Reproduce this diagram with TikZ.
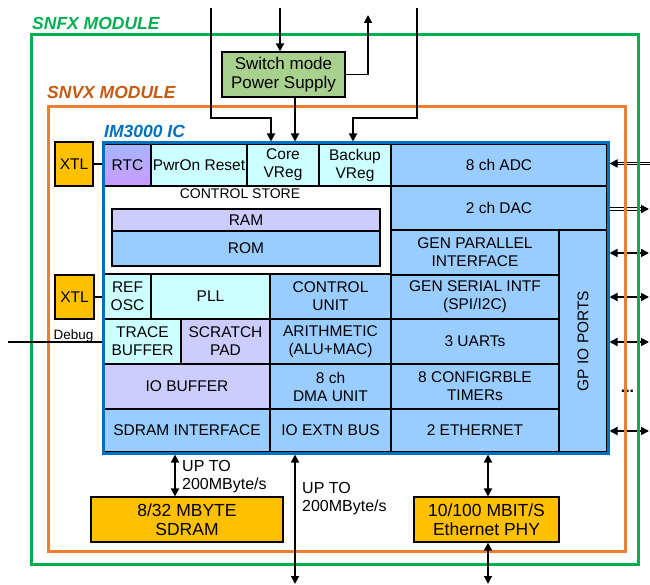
\documentclass[tikz,border=0pt]{standalone}
\usepackage{fontspec}
\setmainfont{Liberation Sans}
\usepackage{graphicx}
\usetikzlibrary{arrows.meta,fit}
\definecolor{cyanc}{HTML}{CCFFFF}
\definecolor{bluec}{HTML}{99CCFF}
\definecolor{lavc}{HTML}{CCCCFF}
\definecolor{xtlc}{HTML}{FFC000}
\definecolor{psuc}{HTML}{A9D18E}
\definecolor{icblue}{HTML}{0070C0}
\definecolor{frgreen}{HTML}{00B050}
\definecolor{frorange}{HTML}{ED7D31}
\definecolor{lblorange}{HTML}{C55A11}
\definecolor{rtctop}{HTML}{A4B6FF}
\definecolor{rtcbot}{HTML}{CC99FF}
\newcommand\icfont{\fontsize{15.5}{18}\selectfont}
\newcommand\bigfont{\fontsize{17.5}{18.5}\selectfont}
\newcommand\csfont{\fontsize{14}{16}\selectfont}
\newcommand\upfont{\fontsize{16}{18}\selectfont}
\newcommand\modfont{\fontsize{17.5}{20}\selectfont\bfseries\itshape}
% \rectnode{name}{x1}{y1}{x2}{y2}{style}{text}
\newcommand\rectnode[7]{\node[#6,minimum width={(#4-#2)*1pt},minimum height={(#5-#3)*1pt}] (#1) at ({(#2+#4)/2},{(#3+#5)/2}) {#7};}
\tikzset{
  cellst/.style={draw=black, line width=1.1pt, inner sep=0pt, align=center, font=\icfont},
  cy/.style={cellst, fill=cyanc}, bl/.style={cellst, fill=bluec}, lv/.style={cellst, fill=lavc},
  rtcst/.style={cellst, top color=rtctop, bottom color=rtcbot},
  extbox/.style={draw=black, line width=1.2pt, inner sep=0pt, align=center, font=\bigfont},
  xtlbox/.style={extbox, fill=xtlc},
  frame/.style={line width=3pt, inner sep=0pt},
  modlbl/.style={font=\modfont, inner sep=0pt, anchor=base west},
  conn/.style={draw=black, line width=1.7pt},
  dblconn/.style={draw=black, line width=0.9pt, double=white, double distance=1.6pt},
  >={Triangle[width=8pt,length=8pt]},
  txt/.style={inner sep=0pt, align=left},
}
\begin{document}
\begin{tikzpicture}[x=1pt,y=-1pt]
\useasboundingbox (0,0) rectangle (650,585);
% IC cells
\rectnode{rtc}{104}{144}{151}{186}{rtcst}{RTC}
\rectnode{por}{151}{144}{247}{186}{cy}{PwrOn Reset}
\rectnode{core}{247}{144}{319}{186}{cy}{Core\\VReg}
\rectnode{backup}{319}{144}{391}{186}{cy}{Backup\\VReg}
\rectnode{adc}{391}{144}{607}{186}{bl}{8 ch ADC}
\rectnode{dac}{391}{186}{607}{230}{bl}{2 ch DAC}
\rectnode{cstore}{104}{186}{391}{274}{cellst, fill=white}{}
\node[inner sep=0pt, font=\csfont, anchor=base] (cslbl) at (240,199) {CONTROL STORE};
\rectnode{ram}{112}{209}{380}{231}{lv}{RAM}
\rectnode{rom}{112}{231}{380}{266}{bl}{ROM}
\rectnode{gpp}{391}{230}{559}{275}{bl}{GEN PARALLEL\\INTERFACE}
\rectnode{gsi}{391}{275}{559}{319}{bl}{GEN SERIAL INTF\\(SPI/I2C)}
\rectnode{uart}{391}{319}{559}{364}{bl}{3 UARTs}
\rectnode{tmr}{391}{364}{559}{409}{bl}{8 CONFIGRBLE\\TIMERs}
\rectnode{eth}{391}{409}{559}{452}{bl}{2 ETHERNET}
\rectnode{gpio}{559}{230}{607}{452}{bl}{\rotatebox{90}{GP IO PORTS}}
\rectnode{refosc}{104}{274}{151}{319}{cy}{REF\\OSC}
\rectnode{pll}{151}{274}{270}{319}{cy}{PLL}
\rectnode{cu}{270}{274}{391}{319}{bl}{CONTROL\\UNIT}
\rectnode{trace}{104}{319}{181}{364}{cy}{TRACE\\BUFFER}
\rectnode{scratch}{181}{319}{270}{364}{lv}{SCRATCH\\PAD}
\rectnode{alu}{270}{319}{391}{364}{bl}{ARITHMETIC\\(ALU+MAC)}
\rectnode{iobuf}{104}{364}{270}{409}{lv}{IO BUFFER}
\rectnode{dma}{270}{364}{391}{409}{bl}{8 ch\\DMA UNIT}
\rectnode{sdi}{104}{409}{270}{452}{bl}{SDRAM INTERFACE}
\rectnode{ioext}{270}{409}{391}{452}{bl}{IO EXTN BUS}
\node[draw=icblue, line width=3pt, inner sep=0pt, fit={(103,143)(608,453)}] (ic) {};
% right side I/O arrows
\coordinate (rAdc) at (650,163.5);
\coordinate (adcEnd) at (rAdc -| ic.east);
\draw[dblconn] (rAdc) -- ([xshift=6pt]adcEnd);
\draw[conn,->] ([xshift=8pt]adcEnd) -- (adcEnd);
\coordinate (rDac) at (649,209);
\draw[dblconn] (rDac -| ic.east) -- ([xshift=-6pt]rDac);
\draw[conn,->] ([xshift=-8pt]rDac) -- (rDac);
\foreach \n/\yy in {rP/253, rS/297, rU/342, rT/431} {
  \coordinate (\n) at (649,\yy);
  \draw[conn,<->] (\n -| ic.east) -- (\n);
}
\node[inner sep=0pt, font=\fontsize{16}{18}\selectfont\bfseries, anchor=base] (dots) at (627.5,392) {...};
% module frames
\node[frame, draw=frgreen, fit={(31,35)(638,564)}] (snfx) {};
\node[frame, draw=frorange, fit={(48,107)(625,551)}] (snvx) {};
\node[modlbl, text=frgreen] (snfxl) at (32,30) {SNFX MODULE};
\node[modlbl, text=lblorange] (snvxl) at (47,99) {SNVX MODULE};
\node[modlbl, text=icblue] (icl) at (104,138) {IM3000 IC};
% external boxes
\rectnode{psu}{222}{52}{345}{97}{extbox, fill=psuc, font=\fontsize{17}{19}\selectfont}{Switch mode\\Power Supply}
\rectnode{xtl1}{55}{142}{93}{186}{xtlbox, font=\icfont}{XTL}
\rectnode{xtl2}{55}{275}{94}{319}{xtlbox, font=\icfont}{XTL}
\rectnode{sdram}{91}{497}{283}{542}{xtlbox}{8/32 MBYTE\\SDRAM}
\rectnode{phy}{414}{497}{559}{542}{xtlbox}{10/100 MBIT/S\\Ethernet PHY}
% top connectors
\coordinate (inA) at (211,8);
\coordinate (bendA) at (271,118);
\draw[conn,->] (inA) |- (bendA) -- (bendA |- ic.north);
\coordinate (inB) at (280,8);
\draw[conn,->] (inB) -- (inB |- psu.north);
\coordinate (xC) at (295,100);
\draw[conn,->] (xC |- psu.south) -- (xC |- ic.north);
\coordinate (outD) at (368,15);
\draw[conn,->] (psu.east) -| (outD);
\coordinate (inE) at (417,8);
\coordinate (bendE) at (353,118);
\draw[conn,->] (inE) |- (bendE) -- (bendE |- ic.north);
% left connectors
\draw[conn] (xtl1.east) -- (xtl1.east -| ic.west);
\draw[conn] (xtl2.east) -- (xtl2.east -| ic.west);
\coordinate (dbgin) at (8,342);
\draw[conn] (dbgin) -- (dbgin -| ic.west);
\node[inner sep=0pt, font=\fontsize{13.5}{15}\selectfont, anchor=base] (dbg) at (73.5,339) {Debug};
% bottom connectors
\coordinate (xS) at (175,470);
\draw[conn,<->] (xS |- ic.south) -- (xS |- sdram.north);
\coordinate (outIO) at (295,584);
\draw[conn,<->] (outIO |- ic.south) -- (outIO);
\coordinate (xE) at (488,470);
\draw[conn,<->] (xE |- ic.south) -- (xE |- phy.north);
\coordinate (outE) at (488,584);
\draw[conn,<->] (outE |- phy.south) -- (outE);
\node[txt, font=\upfont, anchor=north west] (bw1) at (182,460.5) {UP TO\\200MByte/s};
\node[txt, font=\upfont, anchor=north west] (bw2) at (302,482.5) {UP TO\\200MByte/s};
\end{tikzpicture}
\end{document}
